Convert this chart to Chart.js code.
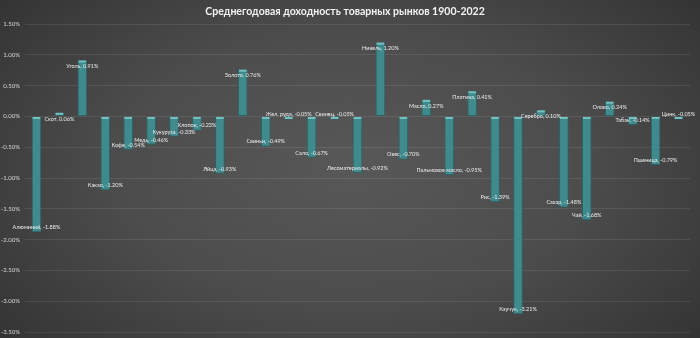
<!DOCTYPE html>
<html>
<head>
<meta charset="utf-8">
<script src="https://cdn.jsdelivr.net/npm/chart.js@4"></script>
<style>
  html, body { margin: 0; padding: 0; }
  #wrap {
    width: 700px; height: 338px; position: relative;
    background: radial-gradient(ellipse 75% 90% at 50% 50%, #585858 0%, #4c4c4c 45%, #2c2c2c 100%);
  }
</style>
</head>
<body>
<div id="wrap"><canvas id="myChart"></canvas></div>
<script>
// commodities, alphabetical as in the source table
const commodities = ['Алюминий', 'Скот', 'Уголь', 'Какао', 'Кофе', 'Медь', 'Кукуруза', 'Хлопок', 'Яйца', 'Золото',
	'Свиньи', 'Жел. руда', 'Сало', 'Свинец', 'Лесоматериалы', 'Никель', 'Овес', 'Масло', 'Пальмовое масло', 'Платина',
	'Рис', 'Каучук', 'Серебро', 'Сахар', 'Чай', 'Олово', 'Табак', 'Пшеница', 'Цинк'];
// average annual real return, %
const returns = [-1.88, 0.06, 0.91, -1.20, -0.54, -0.46, -0.33, -0.23, -0.93, 0.76,
	-0.49, -0.05, -0.67, -0.05, -0.92, 1.20, -0.70, 0.27, -0.95, 0.41,
	-1.39, -3.21, 0.10, -1.48, -1.68, 0.24, -0.14, -0.79, -0.05];
const yTicks = [1.5, 1.0, 0.5, 0, -0.5, -1.0, -1.5, -2.0, -2.5, -3.0, -3.5];

const fontFam = 'Lato, "Noto Sans", sans-serif';

// "Name, value%" labels at the inner end of each bar, plus a light bevel cap on top
const barLabels = {
	id: 'barLabels',
	afterDatasetsDraw(chart) {
		const ctx = chart.ctx;
		const meta = chart.getDatasetMeta(0);
		ctx.save();
		meta.data.forEach((bar, i) => {
			const top = Math.min(bar.y, bar.base);
			const w = bar.width;
			ctx.fillStyle = '#74c2c3';
			ctx.fillRect(bar.x - w / 2 + 1, top, w - 2, 2);
		});
		ctx.font = '5.5px ' + fontFam;
		ctx.fillStyle = '#ececec';
		ctx.textAlign = 'center';
		ctx.textBaseline = 'middle';
		meta.data.forEach((bar, i) => {
			const v = returns[i];
			const y = v >= 0 ? bar.y + 6 : bar.y - 5;
			ctx.fillText(commodities[i] + ', ' + v.toFixed(2) + '%', bar.x, y);
		});
		ctx.restore();
	}
};

const ctx = document.querySelector('#myChart').getContext('2d');

new Chart(ctx, {
	type: 'bar',
	data: {
		labels: commodities,
		datasets: [{
			data: returns,
			backgroundColor: '#3f8a8d',
			borderColor: '#2c6466',
			borderWidth: 1,
			borderSkipped: false,
			barPercentage: 0.42,
			categoryPercentage: 1
		}]
	},
	options: {
		responsive: true,
		maintainAspectRatio: false,
		animation: false,
		layout: { padding: { left: 0, right: 10, top: 0, bottom: 6 } },
		plugins: {
			legend: { display: false },
			tooltip: { enabled: false },
			title: {
				display: true,
				text: 'Среднегодовая доходность товарных рынков 1900-2022',
				color: '#f2f2f2',
				font: { family: fontFam, size: 10.5, weight: 'bold' },
				padding: { top: 5, bottom: 6.5 }
			}
		},
		scales: {
			x: {
				display: false,
				offset: true
			},
			y: {
				min: -3.5,
				max: 1.5,
				afterFit: s => { s.width = 25; s.paddingTop = 0; s.paddingBottom = 0; },
				afterBuildTicks: s => { s.ticks = yTicks.map(v => ({ value: v })); },
				border: { display: false },
				grid: { color: 'rgba(255,255,255,0.09)', lineWidth: 1, drawTicks: false },
				ticks: {
					color: '#d8d8d8',
					padding: 5,
					font: { family: fontFam, size: 6 },
					callback: v => v.toFixed(2) + '%'
				}
			}
		}
	},
	plugins: [barLabels]
});
</script>
</body>
</html>
